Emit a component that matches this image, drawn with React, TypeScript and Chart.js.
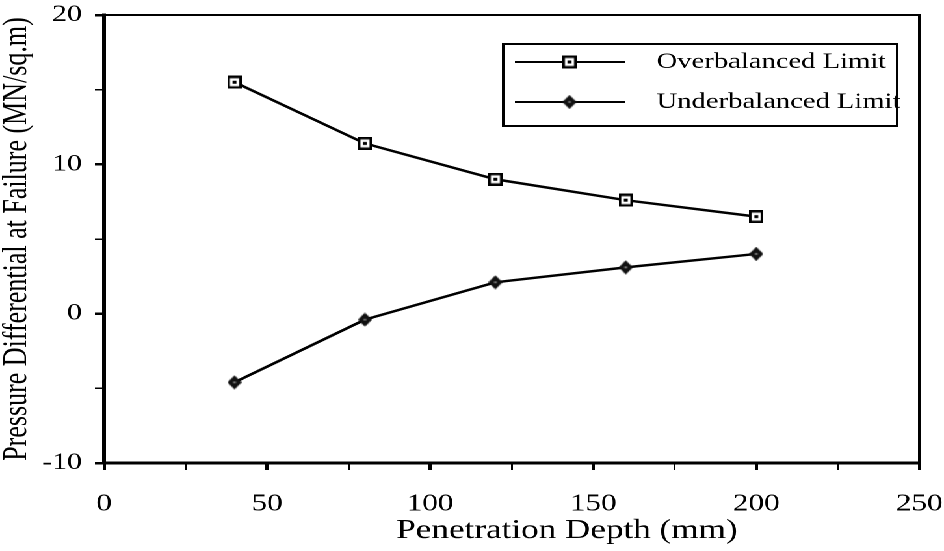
import React, { useEffect, useRef } from 'react';
import { Chart, registerables } from 'chart.js';

Chart.register(...registerables);

// ---- data ----
const depths = [40, 80, 120, 160, 200];
const overbalanced = [15.5, 11.4, 9.0, 7.6, 6.5];
const underbalanced = [-4.6, -0.4, 2.1, 3.1, 4.0];
const seriesNames = ['Overbalanced Limit', 'Underbalanced Limit'];
const xTitle = 'Penetration Depth (mm)';
const yTitle = 'Pressure Differential at Failure (MN/sq.m)';
const xMin = 0;
const xMax = 250;
const xStep = 25;
const xLabelStep = 50;
const yMin = -10;
const yMax = 20;
const yStep = 5;
const yLabelStep = 10;

// ---- layout ----
const W = 726;
const H = 551;
const STRETCH = 944 / W;
const FONT = '"Liberation Serif", "Times New Roman", serif';

function makeSquare(): HTMLCanvasElement {
  const c = document.createElement('canvas');
  c.width = 11;
  c.height = 13;
  const g = c.getContext('2d')!;
  g.fillStyle = '#000';
  g.fillRect(0, 0, 11, 13);
  g.fillStyle = '#fff';
  g.fillRect(2, 2.5, 7, 8);
  g.fillStyle = '#000';
  g.fillRect(4, 5, 3, 3);
  return c;
}

function makeDiamond(): HTMLCanvasElement {
  const c = document.createElement('canvas');
  c.width = 11;
  c.height = 14;
  const g = c.getContext('2d')!;
  g.fillStyle = '#111';
  g.beginPath();
  g.moveTo(5.5, 0);
  g.lineTo(11, 7);
  g.lineTo(5.5, 14);
  g.lineTo(0, 7);
  g.closePath();
  g.fill();
  g.fillStyle = '#777';
  g.fillRect(4.5, 6, 2, 2);
  return c;
}

function zeroPadding(s: any) {
  s.paddingTop = 0;
  s.paddingBottom = 0;
  s.paddingLeft = 0;
  s.paddingRight = 0;
}

export default function App() {
  const ref = useRef<HTMLCanvasElement | null>(null);

  useEffect(() => {
    if (!ref.current) return;
    const sq = makeSquare();
    const dia = makeDiamond();

    const framePlugin = {
      id: 'frame',
      afterDraw(chart: any) {
        const { ctx, chartArea: a } = chart;
        ctx.save();
        ctx.strokeStyle = '#000';
        ctx.lineWidth = 2;
        ctx.beginPath();
        ctx.moveTo(a.left, a.top);
        ctx.lineTo(a.right, a.top);
        ctx.lineTo(a.right, a.bottom);
        ctx.stroke();
        ctx.restore();
      },
    };

    const legendPlugin = {
      id: 'boxLegend',
      afterDraw(chart: any) {
        const ctx = chart.ctx;
        const x0 = 387, x1 = 690, y0 = 44, y1 = 126;
        ctx.save();
        ctx.strokeStyle = '#000';
        ctx.lineWidth = 2;
        ctx.strokeRect(x0, y0, x1 - x0, y1 - y0);
        const rows = [
          { y: 62, img: sq, label: seriesNames[0] },
          { y: 102, img: dia, label: seriesNames[1] },
        ];
        rows.forEach((r) => {
          ctx.lineWidth = 2;
          ctx.beginPath();
          ctx.moveTo(396, r.y);
          ctx.lineTo(481, r.y);
          ctx.stroke();
          ctx.drawImage(r.img, 438 - r.img.width / 2, r.y - r.img.height / 2);
          ctx.fillStyle = '#000';
          ctx.font = `22px ${FONT}`;
          ctx.textAlign = 'left';
          ctx.textBaseline = 'middle';
          ctx.fillText(r.label, 505, r.y);
        });
        ctx.restore();
      },
    };

    const xTitlePlugin = {
      id: 'xTitle',
      afterDraw(chart: any) {
        const ctx = chart.ctx;
        ctx.save();
        ctx.fillStyle = '#000';
        ctx.font = `27px ${FONT}`;
        ctx.textAlign = 'center';
        ctx.textBaseline = 'middle';
        ctx.fillText(xTitle, 436, 531);
        ctx.restore();
      },
    };

    const chart = new Chart(ref.current, {
      type: 'line',
      data: {
        datasets: [
          {
            label: seriesNames[0],
            data: depths.map((x, i) => ({ x, y: overbalanced[i] })),
            borderColor: '#000',
            backgroundColor: '#000',
            borderWidth: 2.5,
            pointStyle: sq as any,
            pointRadius: 7,
            tension: 0,
            clip: false as any,
          },
          {
            label: seriesNames[1],
            data: depths.map((x, i) => ({ x, y: underbalanced[i] })),
            borderColor: '#000',
            backgroundColor: '#000',
            borderWidth: 2.5,
            pointStyle: dia as any,
            pointRadius: 7,
            tension: 0,
            clip: false as any,
          },
        ],
      },
      options: {
        animation: false,
        responsive: false,
        devicePixelRatio: 2,
        layout: { padding: { top: 15, right: 19, left: 0, bottom: 0 } },
        plugins: {
          legend: { display: false },
          tooltip: { enabled: false },
        },
        scales: {
          x: {
            type: 'linear',
            min: xMin,
            max: xMax,
            afterFit: (s: any) => {
              s.height = 88;
              zeroPadding(s);
            },
            border: { display: true, color: '#000', width: 3 },
            grid: {
              display: true,
              drawOnChartArea: false,
              drawTicks: true,
              tickLength: 7,
              color: '#000',
              lineWidth: (c: any) => (c.tick && c.tick.value % xLabelStep === 0 ? 2.5 : 1.5),
            },
            ticks: {
              stepSize: xStep,
              autoSkip: false,
              maxRotation: 0,
              padding: 20,
              color: '#000',
              font: { family: FONT, size: 24 },
              callback: (v: any) => (Number(v) % xLabelStep === 0 ? String(v) : ''),
            },
            title: { display: false },
          },
          y: {
            type: 'linear',
            min: yMin,
            max: yMax,
            afterFit: (s: any) => {
              s.width = 80;
              zeroPadding(s);
            },
            border: { display: true, color: '#000', width: 3 },
            grid: {
              display: true,
              drawOnChartArea: false,
              drawTicks: true,
              tickLength: 7,
              color: '#000',
              lineWidth: (c: any) => (c.tick && c.tick.value % yLabelStep === 0 ? 2.5 : 1.5),
            },
            ticks: {
              stepSize: yStep,
              autoSkip: false,
              padding: 10,
              color: '#000',
              font: { family: FONT, size: 23 },
              callback: (v: any) => (Number(v) % yLabelStep === 0 ? String(v) : ''),
            },
            title: {
              display: true,
              text: yTitle,
              color: '#000',
              font: { family: FONT, size: 26, lineHeight: 1 },
              padding: 0,
            },
          },
        },
      },
      plugins: [framePlugin, legendPlugin, xTitlePlugin],
    });

    return () => chart.destroy();
  }, []);

  return (
    <div
      style={{
        position: 'fixed',
        left: 0,
        top: 0,
        width: W,
        height: H,
        background: '#fff',
        transform: `scaleX(${STRETCH})`,
        transformOrigin: '0 0',
      }}
    >
      <canvas ref={ref} width={W} height={H} style={{ width: `${W}px`, height: `${H}px`, display: 'block' }} />
    </div>
  );
}
